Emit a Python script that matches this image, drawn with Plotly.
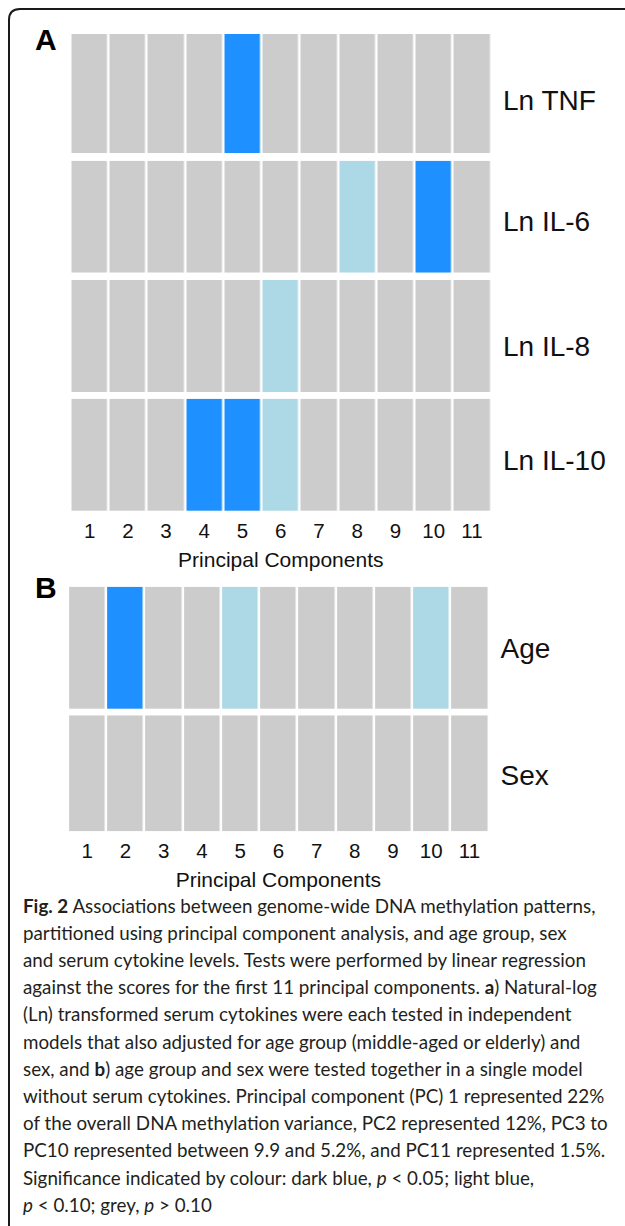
import plotly.graph_objects as go

W, H = 625, 1226

# ---------------- data ----------------
pcs = [1, 2, 3, 4, 5, 6, 7, 8, 9, 10, 11]
pc_labels = [str(p) for p in pcs]
# significance code: 0 = grey (p > 0.10), 1 = light blue (p < 0.10), 2 = dark blue (p < 0.05)
rows_a = ["Ln TNF", "Ln IL-6", "Ln IL-8", "Ln IL-10"]
ln_tnf = [0, 0, 0, 0, 2, 0, 0, 0, 0, 0, 0]
ln_il6 = [0, 0, 0, 0, 0, 0, 0, 1, 0, 2, 0]
ln_il8 = [0, 0, 0, 0, 0, 1, 0, 0, 0, 0, 0]
ln_il10 = [0, 0, 0, 2, 2, 1, 0, 0, 0, 0, 0]
rows_b = ["Age", "Sex"]
age = [0, 2, 0, 0, 1, 0, 0, 0, 0, 1, 0]
sex = [0, 0, 0, 0, 0, 0, 0, 0, 0, 0, 0]
x_title = "Principal Components"
caption_lines = [
    "<b>Fig. 2</b> Associations between genome-wide DNA methylation patterns,",
    "partitioned using principal component analysis, and age group, sex",
    "and serum cytokine levels. Tests were performed by linear regression",
    "against the scores for the first 11 principal components. <b>a</b>) Natural-log",
    "(Ln) transformed serum cytokines were each tested in independent",
    "models that also adjusted for age group (middle-aged or elderly) and",
    "sex, and <b>b</b>) age group and sex were tested together in a single model",
    "without serum cytokines. Principal component (PC) 1 represented 22%",
    "of the overall DNA methylation variance, PC2 represented 12%, PC3 to",
    "PC10 represented between 9.9 and 5.2%, and PC11 represented 1.5%.",
    "Significance indicated by colour: dark blue, <i>p</i> &lt; 0.05; light blue,",
    "<i>p</i> &lt; 0.10; grey, <i>p</i> &gt; 0.10",
]

# ---------------- style ----------------
GREY, LIGHT, DARK = "#CCCCCC", "#ADD8E6", "#1E90FF"
cscale = [[0, GREY], [0.25, GREY], [0.25, LIGHT], [0.75, LIGHT], [0.75, DARK], [1, DARK]]
CHART_FONT = "Liberation Sans, Arial, sans-serif"
CAP_FONT = "Lato, Open Sans, sans-serif"

def px_x(v):
    return v / W

def px_y(v):
    return 1 - v / H

# layout rows (pixel top, bottom), panel, label shift (px, downward)
panel_rows = [
    (rows_a[0], ln_tnf, (34, 153.3), "A", 7),
    (rows_a[1], ln_il6, (160.7, 272.7), "A", 4),
    (rows_a[2], ln_il8, (280, 392), "A", 10),
    (rows_a[3], ln_il10, (398.7, 511), "A", 5),
    (rows_b[0], age, (586.7, 709), "B", 0),
    (rows_b[1], sex, (715.3, 831.3), "B", 2),
]
panel_x = {"A": (70.5, 491.0), "B": (68.1, 488.6)}
bottom_rows = {3, 5}

fig = go.Figure()
layout = dict(
    width=W, height=H, margin=dict(l=0, r=0, t=0, b=0),
    paper_bgcolor="white", plot_bgcolor="white", showlegend=False,
)

for i, (name, vals, (top, bot), panel, shift) in enumerate(panel_rows):
    n = i + 1
    xa = "x" if n == 1 else f"x{n}"
    ya = "y" if n == 1 else f"y{n}"
    fig.add_trace(go.Heatmap(
        z=[vals], x=pc_labels, y=[name], xaxis=xa, yaxis=ya,
        colorscale=cscale, zmin=0, zmax=2, showscale=False,
        xgap=2.5, ygap=0, hoverinfo="skip",
    ))
    x0, x1 = panel_x[panel]
    is_bottom = i in bottom_rows
    xkey = "xaxis" if n == 1 else f"xaxis{n}"
    ykey = "yaxis" if n == 1 else f"yaxis{n}"
    layout[xkey] = dict(
        domain=[px_x(x0), px_x(x1)], anchor=ya, type="category",
        showgrid=False, zeroline=False, showline=False,
        showticklabels=is_bottom, ticks="outside" if is_bottom else "",
        ticklen=1, tickcolor="rgba(0,0,0,0)",
        tickfont=dict(family=CHART_FONT, size=20.5, color="#111"),
        title=dict(text=x_title if is_bottom else "",
                   font=dict(family=CHART_FONT, size=21, color="#111"),
                   standoff=11),
        fixedrange=True,
    )
    layout[ykey] = dict(
        domain=[px_y(bot), px_y(top)], anchor=xa, side="right", type="category",
        showgrid=False, zeroline=False, showline=False,
        ticks="", ticklabelstandoff=11, ticklabelshift=shift,
        tickfont=dict(family=CHART_FONT, size=28, color="#111"),
        fixedrange=True,
    )

annotations = [
    dict(text="<b>A</b>", x=px_x(46), y=px_y(39), xref="paper", yref="paper",
         showarrow=False, xanchor="center", yanchor="middle",
         font=dict(family=CHART_FONT, size=30, color="black")),
    dict(text="<b>B</b>", x=px_x(46), y=px_y(587.5), xref="paper", yref="paper",
         showarrow=False, xanchor="center", yanchor="middle",
         font=dict(family=CHART_FONT, size=30, color="black")),
]
cap_top, cap_step = 905, 27.2
for k, line in enumerate(caption_lines):
    annotations.append(dict(
        text=line, x=px_x(21), y=px_y(cap_top + k * cap_step), xref="paper", yref="paper",
        showarrow=False, xanchor="left", yanchor="middle", align="left",
        font=dict(family=CAP_FONT, size=18.8, color="#231f20"),
    ))
layout["annotations"] = annotations

# rounded frame (top-left corner visible, continues past the right and bottom edges)
fx, fy, r = px_x(9), px_y(9), 11
frame_path = (f"M 1.02,{fy} L {px_x(9 + r)},{fy} "
              f"Q {fx},{fy} {fx},{px_y(9 + r)} L {fx},-0.02")
layout["shapes"] = [dict(type="path", path=frame_path, xref="paper", yref="paper",
                         line=dict(color="#1a1a1a", width=2))]

fig.update_layout(**layout)
fig.write_html("out.html")
